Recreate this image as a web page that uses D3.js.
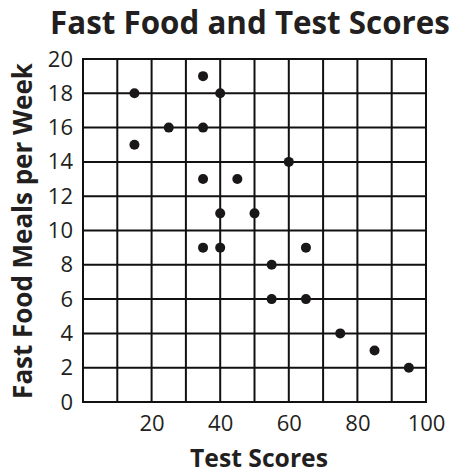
<!DOCTYPE html>
<html>
<head>
<meta charset="utf-8">
<script src="https://cdn.jsdelivr.net/npm/d3@7"></script>
<style>
  html, body { margin: 0; padding: 0; background: #fff; }
  svg { display: block; }
  text { font-family: "Open Sans", "Noto Sans", sans-serif; fill: #231f20; }
</style>
</head>
<body>
<script>
// Test scores (x) and weekly fast-food meals (y) for each student
const testScores = [15, 15, 25, 35, 35, 40, 35, 45, 60, 40, 50, 35, 40, 65, 55, 55, 65, 75, 85, 95];
const mealsPerWeek = [18, 15, 16, 19, 16, 18, 13, 13, 14, 11, 11, 9, 9, 9, 8, 6, 6, 4, 3, 2];

const xTickLabels = [20, 40, 60, 80, 100];
const yTickLabels = [0, 2, 4, 6, 8, 10, 12, 14, 16, 18, 20];
const xGrid = [0, 10, 20, 30, 40, 50, 60, 70, 80, 90, 100];

const W = 464, H = 473;
const plot = { left: 83, top: 59, right: 426, bottom: 402 };

const svg = d3.select("body").append("svg")
  .attr("width", W).attr("height", H);

const x = d3.scaleLinear().domain([0, 100]).range([plot.left, plot.right]);
const y = d3.scaleLinear().domain([0, 20]).range([plot.bottom, plot.top]);

// grid lines
const grid = svg.append("g").attr("stroke", "#111").attr("stroke-width", 2);
grid.selectAll("line.v").data(xGrid).join("line")
  .attr("class", "v")
  .attr("x1", d => x(d)).attr("x2", d => x(d))
  .attr("y1", plot.top).attr("y2", plot.bottom);
grid.selectAll("line.h").data(yTickLabels).join("line")
  .attr("class", "h")
  .attr("x1", plot.left).attr("x2", plot.right)
  .attr("y1", d => y(d)).attr("y2", d => y(d));
grid.append("rect")
  .attr("x", plot.left).attr("y", plot.top)
  .attr("width", plot.right - plot.left).attr("height", plot.bottom - plot.top)
  .attr("fill", "none");

// axes (labels only; the grid draws the lines)
const xAxis = d3.axisBottom(x).tickValues(xTickLabels).tickSize(0).tickPadding(13);
const gx = svg.append("g").attr("transform", `translate(0,${plot.bottom})`).call(xAxis);
gx.select(".domain").remove();
gx.selectAll("text").attr("font-size", 22).attr("font-family", "'Open Sans', sans-serif").attr("fill", "#231f20");

const yAxis = d3.axisLeft(y).tickValues(yTickLabels).tickSize(0).tickPadding(10);
const gy = svg.append("g").attr("transform", `translate(${plot.left},0)`).call(yAxis);
gy.select(".domain").remove();
gy.selectAll("text").attr("font-size", 22).attr("font-family", "'Open Sans', sans-serif").attr("fill", "#231f20");

// points
svg.append("g").selectAll("circle")
  .data(testScores.map((s, i) => [s, mealsPerWeek[i]]))
  .join("circle")
  .attr("cx", d => x(d[0]))
  .attr("cy", d => y(d[1]))
  .attr("r", 5)
  .attr("fill", "#1a1718");

// size a bold label so it spans the given width
function fitText(sel, width) {
  const base = 20;
  sel.attr("font-size", base);
  const w = sel.node().getComputedTextLength();
  sel.attr("font-size", base * width / w);
}

const title = svg.append("text")
  .attr("x", 250).attr("y", 34)
  .attr("text-anchor", "middle")
  .attr("font-weight", 700)
  .text("Fast Food and Test Scores");
fitText(title, 400);

const xTitle = svg.append("text")
  .attr("x", 259).attr("y", 467)
  .attr("text-anchor", "middle")
  .attr("font-weight", 700)
  .text("Test Scores");
fitText(xTitle, 138);

const yTitle = svg.append("text")
  .attr("transform", "translate(32,231) rotate(-90)")
  .attr("text-anchor", "middle")
  .attr("font-weight", 700)
  .text("Fast Food Meals per Week");
fitText(yTitle, 336);
</script>
</body>
</html>
